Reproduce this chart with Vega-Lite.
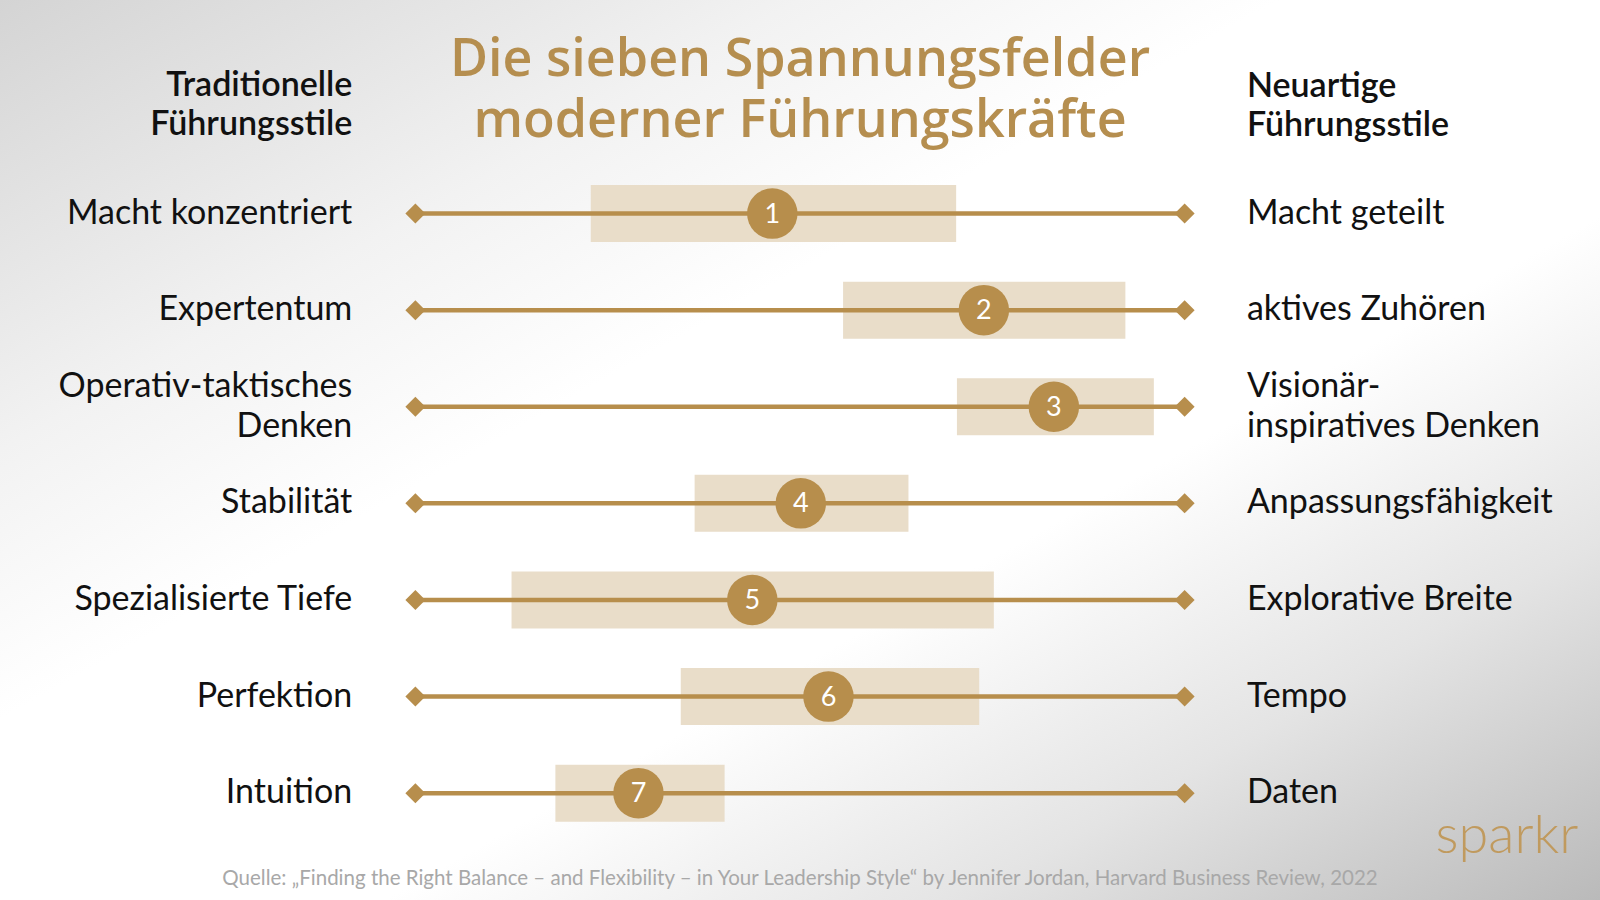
{
  "$schema": "https://vega.github.io/schema/vega-lite/v6.json",
  "width": 1600,
  "height": 900,
  "autosize": {"type": "none"},
  "padding": 0,
  "background": "#ffffff",
  "config": {"view": {"stroke": null}, "font": "Lato"},
  "datasets": {
    "rows": [
      {"row": 1, "nr": "1", "left": "Macht konzentriert", "right": "Macht geteilt", "low": 22.8, "high": 70.3, "value": 46.4},
      {"row": 2, "nr": "2", "left": "Expertentum", "right": "aktives Zuhören", "low": 55.6, "high": 92.3, "value": 73.9},
      {"row": 3, "nr": "3", "left": "Operativ-taktisches\nDenken", "right": "Visionär-\ninspiratives Denken", "low": 70.4, "high": 96.0, "value": 83.0},
      {"row": 4, "nr": "4", "left": "Stabilität", "right": "Anpassungsfähigkeit", "low": 36.3, "high": 64.1, "value": 50.1},
      {"row": 5, "nr": "5", "left": "Spezialisierte Tiefe", "right": "Explorative Breite", "low": 12.5, "high": 75.2, "value": 43.8},
      {"row": 6, "nr": "6", "left": "Perfektion", "right": "Tempo", "low": 34.5, "high": 73.3, "value": 53.7},
      {"row": 7, "nr": "7", "left": "Intuition", "right": "Daten", "low": 18.2, "high": 40.2, "value": 29.0}
    ]
  },
  "resolve": {"scale": {"x": "shared", "y": "shared"}},
  "layer": [
    {
      "data": {"values": [{"bg": 1}]},
      "mark": {
        "type": "rect",
        "fill": {
          "gradient": "linear", "x1": 0, "y1": 0, "x2": 1, "y2": 1,
          "stops": [
            {"offset": 0, "color": "#d4d4d4"},
            {"offset": 0.25, "color": "#f2f2f2"},
            {"offset": 0.4, "color": "#ffffff"},
            {"offset": 0.62, "color": "#ffffff"},
            {"offset": 0.8, "color": "#e4e4e4"},
            {"offset": 1, "color": "#bababa"}
          ]
        }
      },
      "encoding": {}
    },
    {
      "data": {"name": "rows"},
      "layer": [
        {
          "mark": {"type": "bar", "orient": "horizontal", "size": 57, "color": "#e9ddc9"},
          "encoding": {
            "x": {"field": "low", "type": "quantitative", "scale": {"domain": [-54, 154], "nice": false, "zero": false, "padding": 0}, "axis": null},
            "x2": {"field": "high"},
            "y": {"field": "row", "type": "quantitative", "scale": {"domain": [-1.211, 8.106], "nice": false, "zero": false, "reverse": true, "padding": 0}, "axis": null}
          }
        },
        {
          "mark": {"type": "rule", "color": "#b78e4c", "strokeWidth": 4.5},
          "encoding": {
            "x": {"datum": 0, "type": "quantitative"},
            "x2": {"datum": 100},
            "y": {"field": "row", "type": "quantitative"}
          }
        },
        {
          "mark": {"type": "point", "shape": "diamond", "filled": true, "size": 400, "color": "#b78e4c", "opacity": 1},
          "encoding": {
            "x": {"datum": 0, "type": "quantitative"},
            "y": {"field": "row", "type": "quantitative"}
          }
        },
        {
          "mark": {"type": "point", "shape": "diamond", "filled": true, "size": 400, "color": "#b78e4c", "opacity": 1},
          "encoding": {
            "x": {"datum": 100, "type": "quantitative"},
            "y": {"field": "row", "type": "quantitative"}
          }
        },
        {
          "mark": {"type": "circle", "size": 2550, "color": "#b78e4c", "opacity": 1},
          "encoding": {
            "x": {"field": "value", "type": "quantitative"},
            "y": {"field": "row", "type": "quantitative"}
          }
        },
        {
          "mark": {"type": "text", "color": "#ffffff", "fontSize": 27, "align": "center", "baseline": "middle", "dy": 1},
          "encoding": {
            "x": {"field": "value", "type": "quantitative"},
            "y": {"field": "row", "type": "quantitative"},
            "text": {"field": "nr"}
          }
        },
        {
          "transform": [{"filter": "indexof(datum.left, '\\n') < 0"}],
          "mark": {"type": "text", "color": "#111111", "fontSize": 34, "align": "right", "baseline": "middle"},
          "encoding": {
            "x": {"datum": -8.2, "type": "quantitative"},
            "y": {"field": "row", "type": "quantitative"},
            "text": {"field": "left"}
          }
        },
        {
          "transform": [{"filter": "indexof(datum.left, '\\n') >= 0"}],
          "mark": {"type": "text", "color": "#111111", "fontSize": 34, "align": "right", "baseline": "middle", "lineBreak": "\n", "lineHeight": 40, "dy": -20},
          "encoding": {
            "x": {"datum": -8.2, "type": "quantitative"},
            "y": {"field": "row", "type": "quantitative"},
            "text": {"field": "left"}
          }
        },
        {
          "transform": [{"filter": "indexof(datum.right, '\\n') < 0"}],
          "mark": {"type": "text", "color": "#111111", "fontSize": 34, "align": "left", "baseline": "middle"},
          "encoding": {
            "x": {"datum": 108.1, "type": "quantitative"},
            "y": {"field": "row", "type": "quantitative"},
            "text": {"field": "right"}
          }
        },
        {
          "transform": [{"filter": "indexof(datum.right, '\\n') >= 0"}],
          "mark": {"type": "text", "color": "#111111", "fontSize": 34, "align": "left", "baseline": "middle", "lineBreak": "\n", "lineHeight": 40, "dy": -20},
          "encoding": {
            "x": {"datum": 108.1, "type": "quantitative"},
            "y": {"field": "row", "type": "quantitative"},
            "text": {"field": "right"}
          }
        }
      ]
    },
    {
      "data": {"values": [{"t": "Die sieben Spannungsfelder\nmoderner Führungskräfte"}]},
      "mark": {"type": "text", "font": "Open Sans", "color": "#b58e4f", "fontSize": 52, "fontWeight": 600, "align": "center", "baseline": "middle", "lineBreak": "\n", "lineHeight": 61, "dy": -30.5},
      "encoding": {
        "x": {"datum": 50, "type": "quantitative"},
        "y": {"datum": -0.277, "type": "quantitative"},
        "text": {"field": "t"}
      }
    },
    {
      "data": {"values": [{"t": "Traditionelle\nFührungsstile"}]},
      "mark": {"type": "text", "color": "#111111", "fontSize": 34, "fontWeight": 600, "align": "right", "baseline": "middle", "lineBreak": "\n", "lineHeight": 39, "dy": -19.5},
      "encoding": {
        "x": {"datum": -8.2, "type": "quantitative"},
        "y": {"datum": -0.118, "type": "quantitative"},
        "text": {"field": "t"}
      }
    },
    {
      "data": {"values": [{"t": "Neuartige\nFührungsstile"}]},
      "mark": {"type": "text", "color": "#111111", "fontSize": 34, "fontWeight": 600, "align": "left", "baseline": "middle", "lineBreak": "\n", "lineHeight": 39, "dy": -19.5},
      "encoding": {
        "x": {"datum": 108.1, "type": "quantitative"},
        "y": {"datum": -0.108, "type": "quantitative"},
        "text": {"field": "t"}
      }
    },
    {
      "data": {"values": [{"t": "Quelle: „Finding the Right Balance – and Flexibility – in Your Leadership Style“ by Jennifer Jordan, Harvard Business Review, 2022"}]},
      "mark": {"type": "text", "color": "#a8a8a8", "fontSize": 20.5, "align": "center", "baseline": "middle"},
      "encoding": {
        "x": {"datum": 50, "type": "quantitative"},
        "y": {"datum": 7.884, "type": "quantitative"},
        "text": {"field": "t"}
      }
    },
    {
      "data": {"values": [{"t": "sparkr"}]},
      "mark": {"type": "text", "color": "#c09a5e", "fontSize": 54, "fontWeight": 300, "align": "center", "baseline": "alphabetic"},
      "encoding": {
        "x": {"datum": 141.9, "type": "quantitative"},
        "y": {"datum": 7.623, "type": "quantitative"},
        "text": {"field": "t"}
      }
    }
  ]
}
